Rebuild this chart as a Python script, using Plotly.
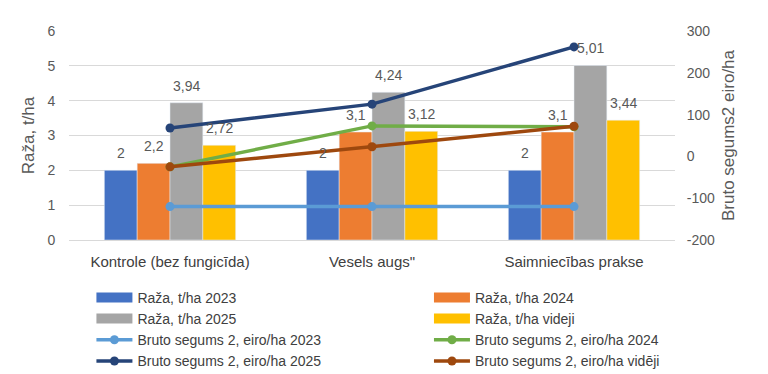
import plotly.graph_objects as go

categories = ["Kontrole (bez fungicīda)", "Vesels augs\"", "Saimniecības prakse"]

raza_2023 = [2, 2, 2]
raza_2024 = [2.2, 3.1, 3.1]
raza_2025 = [3.94, 4.24, 5.01]
raza_videji = [2.72, 3.12, 3.44]

bruto_2023 = [-120, -120, -120]
bruto_2024 = [-25, 73, 71]
bruto_2025 = [68, 125, 262]
bruto_videji = [-25, 23, 72]

right_ticks = [-200, -100, 0, 100, 200, 300]
right_ticktext = ["-200", "-100", "0", "100", "200", "300"]

# (name, values, colour, legend column)
bar_series = [
    ("Raža, t/ha 2023", raza_2023, "#4472C4", "legend"),
    ("Raža, t/ha 2024", raza_2024, "#ED7D31", "legend2"),
    ("Raža, t/ha 2025", raza_2025, "#A5A5A5", "legend"),
    ("Raža, t/ha videji", raza_videji, "#FFC000", "legend2"),
]
line_series = [
    ("Bruto segums 2, eiro/ha 2023", bruto_2023, "#5B9BD5", "legend"),
    ("Bruto segums 2, eiro/ha 2024", bruto_2024, "#70AD47", "legend2"),
    ("Bruto segums 2, eiro/ha 2025", bruto_2025, "#264478", "legend"),
    ("Bruto segums 2, eiro/ha vidēji", bruto_videji, "#9E480E", "legend2"),
]

FONT = "Liberation Sans"
GREY = "#595959"
BARGAP = 0.35

fig = go.Figure()
n_bars = len(bar_series)
bar_w = (1 - BARGAP) / n_bars
annotations = []
for k, (name, vals, col, lg) in enumerate(bar_series):
    fig.add_trace(go.Bar(
        x=categories, y=vals, name=name, marker_color=col,
        yaxis="y", showlegend=False,
    ))
    off = -(1 - BARGAP) / 2 + bar_w * (k + 0.5)
    for i, v in enumerate(vals):
        annotations.append(dict(
            x=i + off, y=v, xref="x", yref="y", text=f"{v:g}".replace(".", ","),
            showarrow=False, yshift=17,
            font=dict(family=FONT, size=14, color=GREY),
        ))
# legend-only entries for the bars (wide rectangular swatch)
for name, vals, col, lg in bar_series:
    fig.add_trace(go.Scatter(
        x=[None], y=[None], name=name, mode="lines",
        line=dict(color=col, width=10), yaxis="y", legend=lg,
        hoverinfo="skip",
    ))
for name, vals, col, lg in line_series:
    fig.add_trace(go.Scatter(
        x=categories, y=vals, name=name, mode="lines+markers",
        line=dict(color=col, width=3.5), marker=dict(color=col, size=9),
        yaxis="y2", legend=lg,
    ))

legend_common = dict(
    orientation="v", xanchor="left", yanchor="top", y=-0.20,
    font=dict(size=14, color="#404040", family=FONT), tracegroupgap=0,
    itemwidth=36, bgcolor="rgba(0,0,0,0)",
)

fig.update_layout(
    width=768, height=374,
    margin=dict(l=69, r=93, t=31, b=134, autoexpand=False),
    paper_bgcolor="white", plot_bgcolor="white",
    separators=", ",
    barmode="group", bargap=BARGAP, bargroupgap=0,
    font=dict(family=FONT, color=GREY, size=14),
    annotations=annotations,
    xaxis=dict(
        showgrid=False, showline=True, linecolor="#d9d9d9",
        ticks="outside", ticklen=8, tickcolor="rgba(0,0,0,0)",
        tickfont=dict(size=15, color="#404040"),
    ),
    yaxis=dict(
        range=[0, 6], dtick=1, showgrid=True, gridcolor="#d9d9d9",
        zeroline=False, tickfont=dict(size=14), ticks="outside",
        ticklen=10, tickcolor="rgba(0,0,0,0)",
        title=dict(text="Raža, t/ha", font=dict(size=17), standoff=8),
    ),
    yaxis2=dict(
        range=[-200, 300], tickvals=right_ticks, ticktext=right_ticktext,
        overlaying="y", side="right",
        showgrid=False, zeroline=False, tickfont=dict(size=14),
        ticks="outside", ticklen=8, tickcolor="rgba(0,0,0,0)",
        title=dict(text="Bruto segums2 eiro/ha", font=dict(size=17), standoff=8),
    ),
    legend=dict(x=0.037, **legend_common),
    legend2=dict(x=0.594, **legend_common),
)

fig.write_html("out.html", config={"displayModeBar": False},
               post_script="document.body.style.margin='0';")
